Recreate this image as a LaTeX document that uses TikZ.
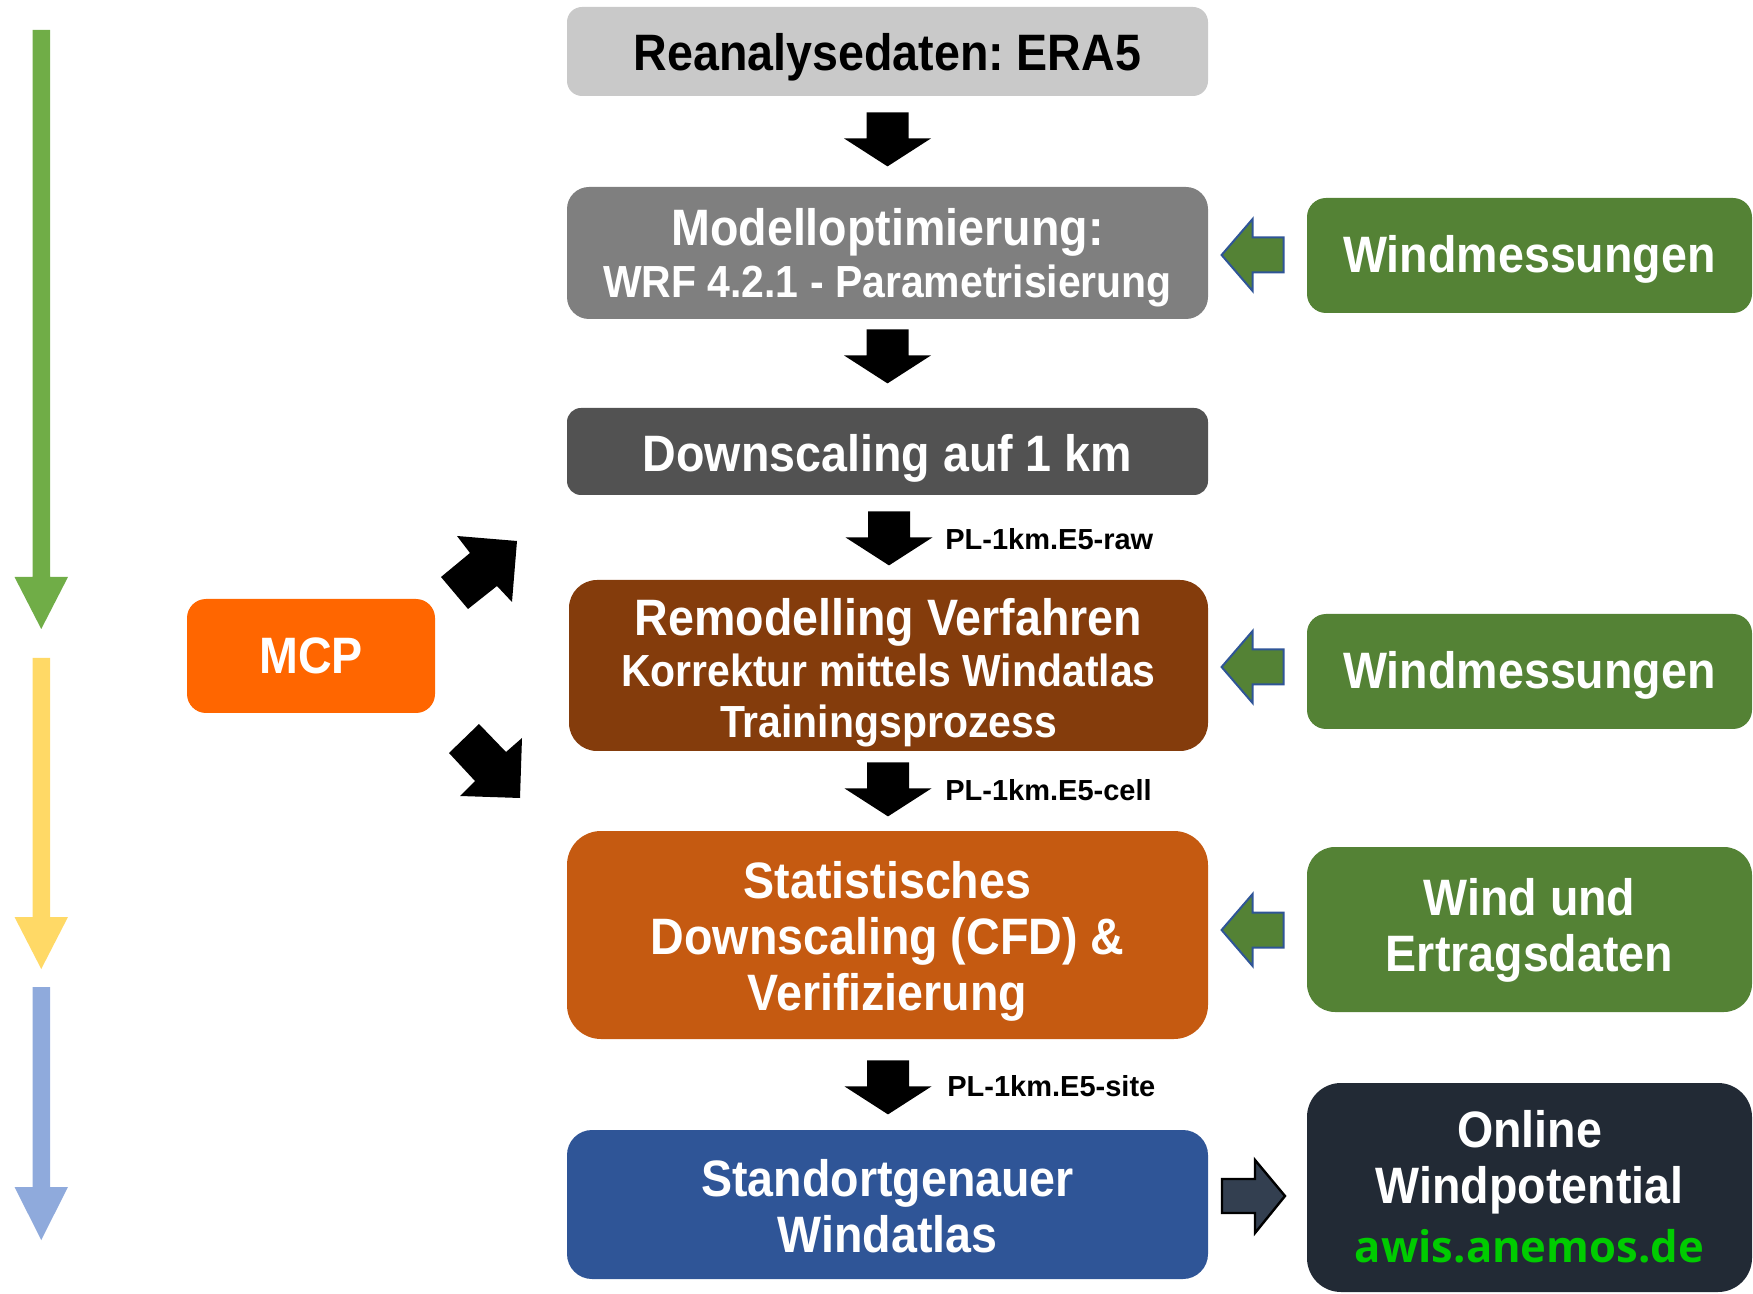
\documentclass[tikz,border=0pt]{standalone}
\usepackage{fontspec}
\setmainfont{Liberation Sans}[FakeStretch=0.91]
\newfontfamily\lblfont{Liberation Sans}
\newfontfamily\awisfont{Open Sans}
\usetikzlibrary{calc}
\frenchspacing
\definecolor{cEra}{HTML}{C9C9C9}
\definecolor{cMod}{HTML}{7F7F7F}
\definecolor{cDown}{HTML}{525252}
\definecolor{cRemo}{HTML}{843C0C}
\definecolor{cStat}{HTML}{C55A11}
\definecolor{cStand}{HTML}{2F5597}
\definecolor{cMcp}{HTML}{FF6600}
\definecolor{cGreen}{HTML}{548235}
\definecolor{cOnl}{HTML}{222A35}
\definecolor{cDarkArr}{HTML}{333F50}
\definecolor{cArrBlue}{HTML}{2F5597}
\definecolor{cAwis}{RGB}{0,204,0}
\definecolor{cLGreen}{HTML}{70AD47}
\definecolor{cLYellow}{HTML}{FFD966}
\definecolor{cLBlue}{HTML}{8FAADC}
\begin{document}
\begin{tikzpicture}[x=0.5pt,y=-0.5pt,
  box/.style={inner sep=0pt},
  txt/.style={inner sep=0pt, text=white, align=center,
    font=\frenchspacing\bfseries\fontsize{25.6}{28}\selectfont},
  lbl/.style={inner sep=0pt, anchor=west, font=\lblfont\bfseries\fontsize{14.5}{17}\selectfont},
  downarr/.pic={\fill[black] (-21,0) -- (21,0) -- (21,26) -- (43.5,26) -- (0,54) -- (-43.5,26) -- (-21,26) -- cycle;},
  leftarr/.pic={\filldraw[fill=cGreen, draw=cArrBlue, line width=1pt, line join=miter] (0,0) -- (31,-36) -- (31,-17.5) -- (62,-17.5) -- (62,17.5) -- (31,17.5) -- (31,36) -- cycle;}
]
\useasboundingbox (0,0) rectangle (1753,1294);

% left timeline arrows
\fill[cLGreen] (32.5,30) -- (50,30) -- (50,577) -- (68,577) -- (41.25,629) -- (14.5,577) -- (32.5,577) -- cycle;
\fill[cLYellow] (32.5,658) -- (50,658) -- (50,917) -- (68,917) -- (41.25,969) -- (14.5,917) -- (32.5,917) -- cycle;
\fill[cLBlue] (32.5,987) -- (50,987) -- (50,1187) -- (68,1187) -- (41.25,1240) -- (14.5,1187) -- (32.5,1187) -- cycle;

% main column boxes
\node[box, fill=cEra, minimum width=320.5pt, minimum height=44.5pt, rounded corners=7.5pt] (era) at (887.5,51.5) {};
\node[box, fill=cMod, minimum width=320.5pt, minimum height=66pt, rounded corners=11pt] (mod) at (887.5,253) {};
\node[box, fill=cDown, minimum width=320.5pt, minimum height=43.5pt, rounded corners=7pt] (down) at (887.5,451.5) {};
\node[box, fill=cRemo, minimum width=319.5pt, minimum height=85.5pt, rounded corners=14pt] (remo) at (888.5,665.5) {};
\node[box, fill=cStat, minimum width=320.5pt, minimum height=104pt, rounded corners=17pt] (stat) at (887.5,935) {};
\node[box, fill=cStand, minimum width=320.5pt, minimum height=74.5pt, rounded corners=12.5pt] (stand) at (887.5,1204.5) {};

% main column texts
\node[txt, text=black] (eraT) at ([yshift=-2.8pt]era.center) {Reanalysedaten: ERA5};
\node[txt] (modT) at ([yshift=-2.5pt]mod.center)
  {Modelloptimierung:\\[-2pt]{\fontsize{22.5}{26}\selectfont WRF 4.2.1 - Parametrisierung}};
\node[txt] (downT) at ([yshift=-3.4pt]down.center) {Downscaling auf 1 km};
\node[txt, font=\bfseries\fontsize{22.5}{25.5}\selectfont] (remoT) at ([yshift=-3.4pt]remo.center)
  {{\fontsize{25.6}{25.5}\selectfont Remodelling Verfahren}\\Korrektur mittels Windatlas\\Trainingsprozess};
\node[txt] (statT) at ([yshift=-3pt]stat.center) {Statistisches\\Downscaling (CFD) \&\\Verifizierung};
\node[txt] (standT) at ([yshift=-0.8pt]stand.center) {Standortgenauer\\Windatlas};

% down arrows
\pic at ($(era.south)+(0,16)$) {downarr};
\pic at ($(mod.south)+(0,10)$) {downarr};
\pic at ($(down.south)+(1.5,16)$) {downarr};
\pic at ($(remo.south)+(-0.5,11)$) {downarr};
\pic at ($(stat.south)+(0.5,21)$) {downarr};

\node[lbl] (l1) at (945,539) {PL-1km.E5-raw};
\node[lbl] (l2) at (945,790) {PL-1km.E5-cell};
\node[lbl] (l3) at (947,1086) {PL-1km.E5-site};

% MCP
\node[box, fill=cMcp, minimum width=124pt, minimum height=57pt, rounded corners=9.5pt] (mcp) at (311,656) {};
\node[txt] (mcpT) at (mcp.center) {MCP};
\fill[black] (441,577) -- (470,553) -- (457,536) -- (517,541) -- (512,602) -- (497,586) -- (468,609) -- cycle;
\fill[black] (479,724) -- (506,752) -- (522,738) -- (520,798) -- (460,796) -- (475,781) -- (449,753) -- cycle;

% right column
\node[box, fill=cGreen, minimum width=222.5pt, minimum height=57.5pt, rounded corners=9.5pt] (wm1) at (1529.5,255.5) {};
\node[box, fill=cGreen, minimum width=222.5pt, minimum height=57.5pt, rounded corners=9.5pt] (wm2) at (1529.5,671.5) {};
\node[box, fill=cGreen, minimum width=222.5pt, minimum height=82.5pt, rounded corners=14pt] (wue) at (1529.5,929.5) {};
\node[box, fill=cOnl, minimum width=222.5pt, minimum height=104.5pt, rounded corners=17pt] (onl) at (1529.5,1187.5) {};

\node[txt] (wm1T) at ([yshift=-2pt]wm1.center) {Windmessungen};
\node[txt] (wm2T) at ([yshift=-2pt]wm2.center) {Windmessungen};
\node[txt] (wueT) at ([yshift=-0.6pt]wue.center) {Wind und\\Ertragsdaten};
\node[txt] (onlT) at ([yshift=0.4pt]onl.center)
  {Online\\Windpotential\\[1.5pt]{\awisfont\color{cAwis}\fontsize{21.8}{28}\selectfont awis.anemos.de}};

\pic at ($(wm1.west)+(-85,-0.5)$) {leftarr};
\pic at ($(wm2.west)+(-85,-4.5)$) {leftarr};
\pic at ($(wue.west)+(-85,0.5)$) {leftarr};
\filldraw[fill=cDarkArr, draw=black, line width=1.2pt, line join=miter] (1222,1179) -- (1255,1179) -- (1255,1160) -- (1285,1196) -- (1255,1233) -- (1255,1213) -- (1222,1213) -- cycle;
\end{tikzpicture}
\end{document}
